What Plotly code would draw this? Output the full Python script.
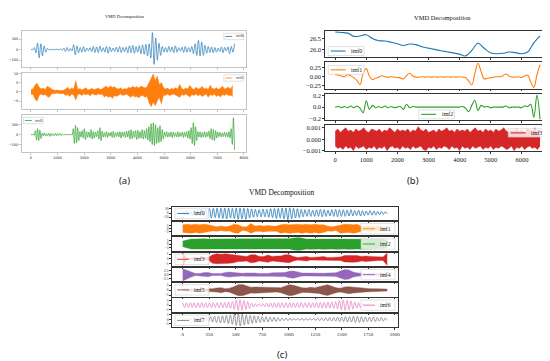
import numpy as np
import plotly.graph_objects as go

W, H = 550, 361
TAB = ['#1f77b4', '#ff7f0e', '#2ca02c', '#d62728', '#9467bd', '#8c564b', '#e377c2', '#7f7f7f']

# ------------------------------------------------------------------ data
# panel (a): 3 modes, ~7650 samples
A_LEN = 7650
a_imf0 = [3, -3,
          20, -30, 62, -78, 55, -60, 35, -25, 10,
          -5, 4, -4, 3, -3, 4, -4, 5, -6,
          15, -18, 20, -15, 12, -14,
          47, -50, 35, -30,
          20, -25, 28, -22, 15, -12, 18, -20, 30, -28, 25, -30, 32, -20, 18, -25, 30, -35, 25, -20,
          15, -18, 22, -25, 30, -28, 20, -20, 22,
          -30, 35, -30, 40, -35, 28, -25, 38, -40, 45, -45,
          50, -60, 55, -80, 160, -140, 110, -100, 60,
          -55, 30, -25, 20, -25, 30, -20, 25, -30, 35, -25, 18, -15, 22, -28, 30, -25, 20, -22,
          30, -40, 55, -55, 87, -60, 70, -55, 40, -35, 30,
          -28, 25, -30, 20, -25, 15, -20, 25, -30,
          20, -15, 25, -40, 30, -25, 55]
# imf1 of panel (a) is noise-like: per-bin maxima and minima
A1_LEN = 7580
a_imf1_max = [1.2, 1.5, 3.5, 4.7, 2.5, 1.5, 2.0, 1.2, 3.0, 2.2, 1.5, 1.0, 0.8, 1.0, 0.7, 0.9, 0.8,
              1.5, 2.5, 1.2, 2.0, 1.5, 6.0,
              1.2, 1.8, 1.0, 1.5, 2.2, 1.0, 1.3, 1.8, 1.1, 1.5, 2.0, 1.2, 1.6,
              2.5, 3.0, 2.0, 3.2, 2.4, 2.8, 1.8, 1.5, 2.2, 1.2, 1.8, 1.5,
              2.5, 2.0, 3.0, 2.2, 2.8, 2.0, 3.2, 2.5, 2.0, 2.8,
              5.0, 7.0, 9.6, 6.0, 8.5, 4.0, 5.0, 2.5,
              1.5, 2.0, 1.2, 1.8, 1.5, 2.2, 1.5, 4.0, 1.8, 1.2, 2.0, 1.5, 3.5, 1.8, 1.2, 2.5, 1.5,
              1.8, 3.0, 1.5, 2.0, 1.2, 3.5, 1.8, 1.5, 2.2, 1.2, 2.0, 3.0, 1.5, 1.8, 2.5, 1.5, 3.5]
a_imf1_min = [-1.2, -1.5, -4.0, -5.0, -2.0, -1.2, -1.8, -1.5, -2.5, -3.0, -1.2, -0.9, -0.8, -0.7, -1.0,
              -0.8, -0.9, -2.0, -1.5, -2.5, -1.2, -1.8, -4.5,
              -1.5, -1.2, -2.0, -1.0, -1.6, -1.2, -2.2, -1.0, -1.4, -1.8, -1.1, -1.5, -1.3,
              -2.8, -2.2, -3.0, -2.5, -3.5, -2.0, -2.5, -1.8, -1.2, -2.0, -1.5, -1.3,
              -2.2, -3.0, -2.0, -2.8, -2.5, -3.2, -2.2, -2.0, -3.0, -2.4,
              -6.0, -8.0, -5.5, -7.5, -5.0, -3.0, -6.5, -2.0,
              -1.8, -1.2, -2.0, -1.5, -1.2, -1.8, -2.5, -3.0, -1.5, -2.0, -1.2, -1.8, -2.8, -1.5, -2.0,
              -1.2, -2.2, -1.5, -2.5, -1.8, -1.2, -3.0, -1.5, -2.0, -1.2, -2.5, -1.8, -2.8, -1.5, -2.0,
              -1.2, -2.0, -1.8, -2.5]
a_imf2 = [5, -5, 8, -8,
          40, -55, 60, -60, 45, -40,
          15, -12, 18, -15, 10, -12, 15, -18, 12, -10, 8, -10, 14, -12, 10, -8, 12, -10, 6, -5,
          3, -3, 2, -2, 3, -2, 3, -5,
          60, -90, 93, -85, 70, -60,
          30, -25, 40, -35, 60, -50, 30, -28, 25, -30, 50, -45, 30, -35, 25, -20, 40, -45, 70, -60, 35, -25,
          20, -25, 30, -28, 20, -15, 25, -30, 35, -30, 20, -18, 25, -22, 30, -35, 25, -20, 28, -30, 35, -25,
          40, -45, 50, -40, 35, -30, 40, -50, 45, -40, 30, -35, 50, -45, 40, -38, 60, -55,
          80, -73, 110, -100, 120, -110, 100, -90, 70, -80, 90, -70, 50, -45,
          25, -20, 30, -25, 20, -22, 28, -30, 25, -20, 18, -22, 30, -25, 20, -18, 25, -30, 22, -20, 30, -35, 40, -45,
          70, -90, 120, -110, 80, -60,
          30, -25, 28, -30, 20, -25, 30, -28, 25, -20, 35, -40,
          60, -55, 50, -60, 40, -35,
          25, -20, 22, -25, 18, -20, 25, -22, 20, -25, 30, -35,
          60, -100, 170, -157]

# panel (b): 4 modes, ~6580 samples
B_LEN = 6580
b_imf0 = [26.80, 26.78, 26.75, 26.60, 26.62, 26.68, 26.50, 26.40, 26.39, 26.33, 26.26, 26.18, 26.25, 26.22,
          26.12, 26.06, 26.00, 25.94, 25.89, 25.84, 25.78, 25.70, 25.95, 26.28, 26.05, 25.85, 25.80, 25.82,
          25.88, 25.85, 25.80, 25.88, 26.30, 26.62]
b_imf1 = [0.06, 0.05, 0.02, 0.00, 0.06, 0.03, -0.03, -0.10, -0.22, 0.10, 0.23, 0.02, -0.08, -0.04, -0.01,
          0.03, 0.00, -0.01, 0.00, -0.01, -0.02, -0.03, -0.06, 0.04, 0.10, 0.02, -0.01, -0.01, 0.00, -0.01,
          0.00, -0.01, 0.00, -0.01, 0.00, -0.01, 0.00, -0.01, 0.00, -0.01, 0.00, -0.01, -0.02, -0.12, -0.23,
          0.10, 0.38, 0.15, -0.06, -0.04, -0.03, -0.01, 0.00, 0.00, 0.03, 0.08, 0.02, -0.01, -0.01, 0.00,
          -0.02, 0.02, 0.05, -0.15, -0.30, 0.05, 0.34]
b_imf2 = [0.00, 0.01, -0.01, 0.01, -0.01, 0.02, -0.01, 0.02, -0.02, -0.10, 0.11, -0.04, 0.03, -0.01, 0.01,
          -0.01, 0.02, -0.01, 0.01, -0.01, 0.00, 0.01, -0.04, 0.05, -0.01, 0.01, 0.00, 0.00, 0.00, 0.00,
          0.00, 0.00, 0.00, 0.00, 0.00, 0.00, 0.00, 0.00, 0.00, 0.00, 0.00, 0.01, -0.02, -0.08, 0.03,
          0.12, -0.06, 0.03, 0.00, 0.01, -0.01, 0.00, 0.00, 0.00, 0.00, 0.02, -0.01, 0.00, 0.00, 0.00,
          -0.01, 0.02, 0.01, 0.05, -0.18, 0.21, -0.21]
# imf3 of panel (b) is noise-like: per-bin maxima and minima
b_imf3_max = [0.0007, 0.0009, 0.0006, 0.0008, 0.0010, 0.0007, 0.0008, 0.0006, 0.0009, 0.0007,
              0.0008, 0.0010, 0.0007, 0.0006, 0.0009, 0.0008, 0.0007, 0.0009, 0.0006, 0.0008,
              0.0007, 0.0010, 0.0008, 0.0006, 0.0009, 0.0007, 0.0008, 0.0007, 0.0009, 0.0006,
              0.0008, 0.0007, 0.0011, 0.0008, 0.0007, 0.0009, 0.0006, 0.0007, 0.0008, 0.0006,
              0.0009, 0.0007, 0.0008, 0.0010, 0.0007, 0.0008, 0.0006, 0.0009, 0.0007, 0.0008,
              0.0007, 0.0009, 0.0006, 0.0008, 0.0010, 0.0007, 0.0008, 0.0006, 0.0009, 0.0007,
              0.0008, 0.0006, 0.0009, 0.0007, 0.0008, 0.0010, 0.0007, 0.0006, 0.0008, 0.0007,
              0.0009, 0.0007, 0.0008, 0.0006, 0.0009, 0.0008, 0.0007, 0.0010, 0.0006, 0.0008]
b_imf3_min = [-0.0006, -0.0008, -0.0007, -0.0009, -0.0006, -0.0008, -0.0007, -0.0010, -0.0006, -0.0008,
              -0.0007, -0.0006, -0.0009, -0.0007, -0.0008, -0.0006, -0.0009, -0.0007, -0.0008, -0.0006,
              -0.0010, -0.0007, -0.0006, -0.0008, -0.0007, -0.0009, -0.0006, -0.0008, -0.0007, -0.0009,
              -0.0006, -0.0008, -0.0007, -0.0006, -0.0009, -0.0010, -0.0007, -0.0008, -0.0006, -0.0009,
              -0.0007, -0.0008, -0.0006, -0.0007, -0.0009, -0.0006, -0.0008, -0.0007, -0.0010, -0.0006,
              -0.0008, -0.0007, -0.0009, -0.0006, -0.0008, -0.0007, -0.0006, -0.0009, -0.0007, -0.0008,
              -0.0006, -0.0009, -0.0007, -0.0008, -0.0006, -0.0007, -0.0009, -0.0008, -0.0006, -0.0010,
              -0.0007, -0.0008, -0.0006, -0.0009, -0.0007, -0.0006, -0.0008, -0.0007, -0.0009, -0.0006]

# panel (c): 8 modes, ~1930 samples
C_LEN = 1930
c_imf0 = [4, -5, 6, -6, 5, -6, 7, -7, 8, -8, 9, -9, 10, -10,
          11, -12, 11.5, -11, 12, -12, 11.5, -13, 12, -14, 12, -12, 11, -13, 12, -15, 12, -14,
          11.5, -15, 11, -12, 10, -10, 9, -9,
          8, -9, 9.5, -9, 9, -10, 10.5, -11, 11, -13, 11.5, -12, 12, -14,
          12, -16, 12.5, -14, 11.5, -12, 10.5, -11,
          9, -9, 8, -8, 9, -8, 7, -8, 8, -8, 9, -9, 8, -8, 7, -7, 8, -8, 9, -9, 8, -8,
          8, -8, 7, -7, 8, -7, 6, -6, 7, -7, 6, -6, 5, -5, 6, -5, 5, -5, 4, -4, 4, -3, 3, -2]
c_imf1_upper = [6, 7, 6, 7, 6, 7, 6, 4, 3, 4, 3, 4, 7, 6, 3, 3, 8, 4, 5, 4, 5, 4, 4,
                6, 7, 6, 7, 7, 6, 7, 6, 7, 6, 6, 4, 3, 4, 6, 7, 7, 6, 7, 3, 4, 3, 3, 4, 3, 2]
c_imf1_lower = [-6, -6.5, -7, -6, -7, -6, -5, -3.5, -4, -3, -4, -3.5, -6.5, -7, -3, -3.5, -7,
                -4.5, -4, -5, -4, -4.5, -4, -7, -6, -7, -6.5, -6, -7, -6, -7, -6, -7, -6,
                -3.5, -4, -3, -7, -6.5, -6, -7, -6, -3.5, -3, -4, -3, -3, -2.5, -2]
c_imf2_upper = [4.5, 6, 7.5, 7.5, 8, 8, 7.5, 7.5, 7.5, 7.5, 8, 7.5, 7.5, 7.5, 8, 7.5,
                7.5, 7.5, 8, 7.5, 7.5, 7.5, 8, 7.5, 7.5, 8, 9, 9.8, 9,
                7.5, 7.5, 8, 7.5, 7.5, 8, 7.5, 7.5, 7.5, 8, 7.5, 7.5, 7.5, 8, 7.5, 7.5, 7, 7.5, 7, 6]
c_imf2_lower = [-4, -6, -7.5, -7.5, -8, -7.5, -7.5, -8, -7.5, -7.5, -8, -7.5, -7.5, -8, -7.5, -7.5,
                -7.5, -8, -7.5, -7.5, -8, -7.5, -7.5, -8, -7.5, -7.5, -9, -9.8, -9,
                -7.5, -8, -7.5, -7.5, -8, -7.5, -7.5, -8, -7.5, -7.5, -8, -7.5, -7.5, -8, -7.5, -7.5, -7, -7, -6.5, -6]
c_imf3_upper = [1.25, 0.15, 0.15, 0.2, 0.15, 0.2, 0.3, 0.9, 1.1, 1.0, 1.1, 1.0, 0.9, 0.7, 0.6, 0.5, 0.9,
                0.9, 0.5, 0.5, 0.8, 0.5, 0.6, 0.6, 0.9, 0.9, 0.5, 0.3, 0.4, 0.5, 0.3, 0.3, 0.4, 0.5,
                0.3, 0.3, 0.3, 0.4, 0.7, 0.7, 0.8, 0.7, 0.5, 0.6, 0.5, 0.5, 0.4, 0.4, 1.25]
c_imf3_lower = [-1.5, -0.15, -0.2, -0.15, -0.2, -0.15, -0.3, -1.0, -1.1, -1.1, -1.0, -1.0, -0.9, -0.6, -0.6,
                -0.5, -0.9, -0.8, -0.5, -0.6, -0.8, -0.5, -0.6, -0.7, -0.9, -0.9, -0.5, -0.3, -0.4, -0.5,
                -0.3, -0.3, -0.4, -0.4, -0.3, -0.3, -0.3, -0.4, -0.7, -0.8, -0.8, -0.7, -0.5, -0.6, -0.5,
                -0.5, -0.4, -0.4, -1.5]
c_imf4_upper = [3.5, 2.5, 1.5, 0.6, 0.7, 1.2, 1.2, 0.6, 0.6, 0.7, 1.3, 1.5, 1.2, 0.8, 0.8, 1.0, 1.1,
                0.9, 0.6, 0.6, 0.7, 1.1, 1.2, 1.0, 1.2, 2.0, 2.1, 1.6, 0.9, 0.9, 0.8, 0.7, 0.8, 0.8,
                0.9, 1.0, 1.1, 2.2, 3.0, 2.8, 1.6, 1.0, 0.7, 0.7, 0.6, 0.7, 0.6, 0.6, 0.5]
c_imf4_lower = [-3.8, -2.5, -1.4, -0.6, -0.7, -1.1, -1.3, -0.6, -0.7, -0.6, -1.2, -1.5, -1.1, -0.8, -0.9,
                -1.0, -1.0, -0.9, -0.6, -0.7, -0.7, -1.0, -1.2, -1.1, -1.2, -1.9, -2.2, -1.5, -0.9, -0.8,
                -0.8, -0.7, -0.8, -0.9, -0.9, -1.0, -1.2, -2.1, -3.0, -2.7, -1.5, -1.0, -0.7, -0.6, -0.7,
                -0.6, -0.6, -0.6, -0.5]
c_imf5_upper = [1.0, 1.0, 1.2, 1.0, 1.2, 1.0, 1.2, 1.5, 2.2, 2.5, 1.5, 2.0, 3.5, 5.5, 5.8, 4.5, 3.0,
                3.2, 3.0, 2.8, 3.0, 2.2, 2.0, 2.5, 4.0, 5.5, 5.0, 3.5, 2.5, 2.2, 2.8, 2.5, 3.2, 4.5,
                5.5, 4.0, 2.5, 2.0, 3.2, 3.5, 3.0, 2.5, 2.0, 1.8, 1.5, 1.5, 1.2, 1.5, 1.0]
c_imf5_lower = [-1.0, -1.2, -1.0, -1.2, -1.0, -1.2, -1.0, -1.6, -2.0, -2.6, -1.6, -2.1, -3.6, -5.6, -5.8,
                -4.4, -3.0, -3.1, -2.9, -2.8, -3.1, -2.2, -2.0, -2.6, -4.1, -5.6, -5.1, -3.4, -2.5, -2.3,
                -2.7, -2.5, -3.3, -4.6, -5.4, -4.0, -2.6, -2.0, -3.1, -3.6, -3.0, -2.4, -2.0, -1.8, -1.6,
                -1.4, -1.2, -1.4, -1.0]
c_imf6 = [2.4, -2.6, 2.5, -2.4, 2.6, -2.5, 2.4, -2.6, 2.5, -2.5, 2.6, -2.4, 2.5, -2.6, 2.4, -2.5, 2.6,
          -2.5, 2.5, -2.6, 2.7, -2.6, 2.8, -2.9, 3.2, -3.2,
          4.0, -4.5, 5.2, -5.5, 5.6, -5.3, 4.8, -4.6, 3.8, -3.4,
          2.2, -2.0, 1.6, -1.5, 1.2, -1.2, 1.5, -1.6, 2.0, -2.1, 2.3, -2.4,
          2.6, -2.5, 2.5, -2.6, 2.7, -2.5, 2.5, -2.6, 2.6, -2.5, 2.4, -2.6, 2.5, -2.5, 2.7, -2.6, 2.5,
          -2.4, 2.6, -2.6, 2.5, -2.5, 2.7, -2.8, 2.8, -2.9,
          3.0, -3.1, 3.2, -3.0, 3.3, -3.4, 3.6, -3.8,
          4.6, -5.0, 5.4, -5.5, 5.2, -5.0, 4.4, -4.0,
          3.2, -3.0, 2.6, -2.5, 2.2, -2.0, 1.8, -1.6, 1.6, -1.5, 1.3, -1.2, 1.2, -1.2, 1.0, -1.0, 1.0, -0.9]
c_imf7 = [1, -1, 1.5, -1.5, 1.5, -1.5, 2, -2, 2, -2, 2, -2, 2.5,
          -2.5, 3, -3, 3.5, -3.5, 3.5, -4, 4, -4, 4.5, -5, 5, -5.5,
          6, -7, 6.5, -7.5, 6, -6.5, 5, -5.5,
          4.5, -4.5, 4, -4, 3.5, -3.5, 3, -3, 3, -3, 2.5, -2.5, 2.5, -2.5,
          2, -2, 1.5, -1.5, 1.5, -1.5, 1.2, -1.2, 1, -1, 1, -1, 1.2, -1.2, 1, -1, 1, -1, 1.2, -1.2,
          1.5, -1.5, 1.5, -1.5, 1.8, -1.8, 2, -2,
          2, -2, 2.5, -2.5, 2.5, -2.5, 3, -3, 3, -3, 3.5, -3.5, 3.5, -3.5, 3, -3, 2.5, -2.5, 2.5,
          -2.5, 2.5, -2.5, 2, -2, 2, -2, 1.5, -1]

# tick labels
a_xticks = [0, 1000, 2000, 3000, 4000, 5000, 6000, 7000, 8000]
b_xticks = [0, 1000, 2000, 3000, 4000, 5000, 6000]
c_xticks = [0, 250, 500, 750, 1000, 1250, 1500, 1750, 2000]
a_yticks = [[-100, 0, 100], [-5, 0, 5, 10], [-100, 0, 100]]
a_ylabels = [['−100', '0', '100'], ['−5', '0', '5', '10'], ['−100', '0', '100']]
b_yticks = [[26.0, 26.5], [-0.25, 0, 0.25], [-0.2, 0, 0.2], [-0.001, 0, 0.001]]
b_ylabels = [['26.0', '26.5'], ['−0.25', '0.00', '0.25'], ['−0.2', '0.0', '0.2'], ['−0.001', '0.000', '0.001']]
c_yticks = [[-10, 0, 10], [-5, 0, 5], [-5, 0, 5], [-1, 0, 1], [-2.5, 0, 2.5], [-5, 0, 5], [-5, 0, 5], [-5, 0, 5]]
c_ylabels = [['−10', '0', '10'], ['−5', '0', '5'], ['−5', '0', '5'], ['−1', '0', '1'], ['−2.5', '0.0', '2.5'],
             ['−5', '0', '5'], ['−5', '0', '5'], ['−5', '0', '5']]
names_a = ['imf0', 'imf1', 'imf2']
names_b = ['imf0', 'imf1', 'imf2', 'imf3']
names_c = ['imf0', 'imf1', 'imf2', 'imf3', 'imf4', 'imf5', 'imf6', 'imf7']

# ------------------------------------------------------------------ figure
fig = go.Figure()
layout = dict(width=W, height=H, margin=dict(l=0, r=0, t=0, b=0), paper_bgcolor='white',
              plot_bgcolor='white', showlegend=False)
shapes, annots = [], []
SERIF = 'Liberation Serif'


def sfx(n):
    return '' if n == 1 else str(n)


def add_axes(n, xpx, ypx, xr, yr, xt, yt, ytl, fam, fs, lc, showx, yfs=None):
    s = sfx(n)
    common = dict(ticks='outside', ticklen=2, tickwidth=0.6, tickcolor=lc, showline=True, mirror=True,
                  linecolor=lc, linewidth=0.8, showgrid=False, zeroline=False)
    layout['xaxis' + s] = dict(domain=[xpx[0] / W, xpx[1] / W], range=xr, anchor='y' + s, tickvals=xt,
                               ticktext=[str(v) for v in xt], showticklabels=showx,
                               tickfont=dict(family=fam, size=fs, color='#222'), **common)
    layout['yaxis' + s] = dict(domain=[1 - ypx[1] / H, 1 - ypx[0] / H], range=yr, anchor='x' + s,
                               tickvals=yt, ticktext=ytl,
                               tickfont=dict(family=fam, size=yfs or fs, color='#222'), **common)


def add_line(n, vals, length, color, width, shape='spline'):
    s = sfx(n)
    fig.add_trace(go.Scatter(x=np.linspace(0, length, len(vals)), y=vals, mode='lines',
                             line=dict(color=color, width=width, shape=shape),
                             xaxis='x' + s, yaxis='y' + s, hoverinfo='skip'))


def add_band(n, upper, lower, length, color, width):
    # dense oscillation / noise drawn as the filled span between its upper and lower extremes
    s = sfx(n)
    fig.add_trace(go.Scatter(x=np.linspace(0, length, len(lower)), y=lower, mode='lines',
                             line=dict(color=color, width=width), xaxis='x' + s, yaxis='y' + s,
                             hoverinfo='skip'))
    fig.add_trace(go.Scatter(x=np.linspace(0, length, len(upper)), y=upper, mode='lines',
                             line=dict(color=color, width=width), fill='tonexty', fillcolor=color,
                             xaxis='x' + s, yaxis='y' + s, hoverinfo='skip'))


def add_legend(box, name, color, fam, fs, pad, llen, gap, lw):
    x0, y0, x1, y1 = box
    shapes.append(dict(type='rect', xref='paper', yref='paper', x0=x0 / W, x1=x1 / W,
                       y0=1 - y1 / H, y1=1 - y0 / H, fillcolor='rgba(255,255,255,0.8)',
                       line=dict(color='#cccccc', width=0.6), layer='above'))
    ym = (y0 + y1) / 2
    shapes.append(dict(type='line', xref='paper', yref='paper', x0=(x0 + pad) / W, x1=(x0 + pad + llen) / W,
                       y0=1 - ym / H, y1=1 - ym / H, line=dict(color=color, width=lw), layer='above'))
    annots.append(dict(xref='paper', yref='paper', x=(x0 + pad + llen + gap) / W, y=1 - ym / H,
                       xanchor='left', yanchor='middle', text=name, showarrow=False,
                       font=dict(family=fam, size=fs, color='#222')))


# ---- panel (a)
A_X = (14, 239)
A_ROWS = [(21, 57.3), (63.3, 100), (106, 143.3)]
A_YR = [[-162, 178], [-9.25, 10.4], [-173, 200]]
for i in range(3):
    add_axes(1 + i, A_X, A_ROWS[i], [-340, 8070], A_YR[i], a_xticks, a_yticks[i], a_ylabels[i],
             'DejaVu Sans', 3.5, '#c4c4c4', i == 2)
add_line(1, a_imf0, A_LEN, TAB[0], 0.7)
add_band(2, a_imf1_max, a_imf1_min, A1_LEN, TAB[1], 0.5)
add_line(3, a_imf2, A_LEN, TAB[2], 0.7)
a_leg = [(217, 23.5, 237, 30), (217, 65.5, 237, 72), (15.5, 108.5, 35.5, 115)]
for i in range(3):
    add_legend(a_leg[i], names_a[i], TAB[i], 'DejaVu Sans', 3.5, 1.5, 7, 1.5, 0.8)

# ---- panel (b)
B_X = (319, 541)
B_TOPS = [21, 52.8, 84.6, 116.4]
B_YR = [[25.645, 26.86], [-0.33, 0.41], [-0.225, 0.235], [-0.00107, 0.00124]]
for i in range(4):
    add_axes(4 + i, B_X, (B_TOPS[i], B_TOPS[i] + 26.6), [-320, 6773], B_YR[i], b_xticks, b_yticks[i],
             b_ylabels[i], SERIF, 6.5, '#333333', i == 3)
add_line(4, b_imf0, B_LEN, TAB[0], 1.1)
add_line(5, b_imf1, B_LEN, TAB[1], 1.1)
add_line(6, b_imf2, B_LEN, TAB[2], 1.1)
add_band(7, b_imf3_max, b_imf3_min, B_LEN, TAB[3], 0.6)
b_leg = [(322, 37, 358, 46), (322, 56, 358, 65), (413, 101, 449, 110), (503, 120, 538, 128.5)]
for i in range(4):
    add_legend(b_leg[i], names_b[i], TAB[i], SERIF, 6, 2.5, 15, 3.5, 1.1)

# ---- panel (c)
C_X = (165, 392)
C_TOPS = [199 + 15.45 * i for i in range(8)]
C_YR = [[-17, 15], [-10.5, 10.3], [-10, 10], [-1.6, 1.35], [-4, 4], [-6.5, 7], [-7, 7], [-8.7, 6.3]]
for i in range(8):
    add_axes(8 + i, C_X, (C_TOPS[i], C_TOPS[i] + 13.5), [-100, 2030], C_YR[i], c_xticks, c_yticks[i],
             c_ylabels[i], SERIF, 5, '#333333', i == 7, yfs=3.6)
add_line(8, c_imf0, C_LEN, TAB[0], 0.8)
add_band(9, c_imf1_upper, c_imf1_lower, C_LEN, TAB[1], 0.4)
add_band(10, c_imf2_upper, c_imf2_lower, C_LEN, TAB[2], 0.4)
add_band(11, c_imf3_upper, c_imf3_lower, C_LEN, TAB[3], 0.4)
add_band(12, c_imf4_upper, c_imf4_lower, C_LEN, TAB[4], 0.4)
add_band(13, c_imf5_upper, c_imf5_lower, C_LEN, TAB[5], 0.4)
add_line(14, c_imf6, C_LEN, TAB[6], 0.7)
add_line(15, c_imf7, C_LEN, TAB[7], 0.8)
c_side = ['L', 'R', 'R', 'L', 'R', 'L', 'R', 'L']
for i in range(8):
    xs = (168, 202) if c_side[i] == 'L' else (355, 389)
    add_legend((xs[0], C_TOPS[i] + 1.5, xs[1], C_TOPS[i] + 12), names_c[i], TAB[i], SERIF, 5.5,
               2, 12, 3, 0.9)

# ---- titles and panel labels
annots.append(dict(xref='paper', yref='paper', x=118 / W, y=1 - 7 / H, text='VMD Decomposition',
                   showarrow=False, xanchor='center', yanchor='middle',
                   font=dict(family=SERIF, size=4.5, color='#222')))
annots.append(dict(xref='paper', yref='paper', x=437 / W, y=1 - 7.5 / H, text='VMD Decomposition',
                   showarrow=False, xanchor='center', yanchor='middle',
                   font=dict(family=SERIF, size=6.5, color='#111')))
annots.append(dict(xref='paper', yref='paper', x=275 / W, y=1 - 185 / H, text='VMD Decomposition',
                   showarrow=False, xanchor='center', yanchor='middle',
                   font=dict(family=SERIF, size=7.5, color='#111')))
for lab, (px, py) in zip(['(a)', '(b)', '(c)'], [(117, 172), (407, 172), (275, 348)]):
    annots.append(dict(xref='paper', yref='paper', x=px / W, y=1 - py / H, text=lab, showarrow=False,
                       xanchor='center', yanchor='middle', font=dict(family='Noto Sans', size=9.5, color='#222')))

layout['shapes'] = shapes
layout['annotations'] = annots
fig.update_layout(**layout)
fig.write_html('out.html')
